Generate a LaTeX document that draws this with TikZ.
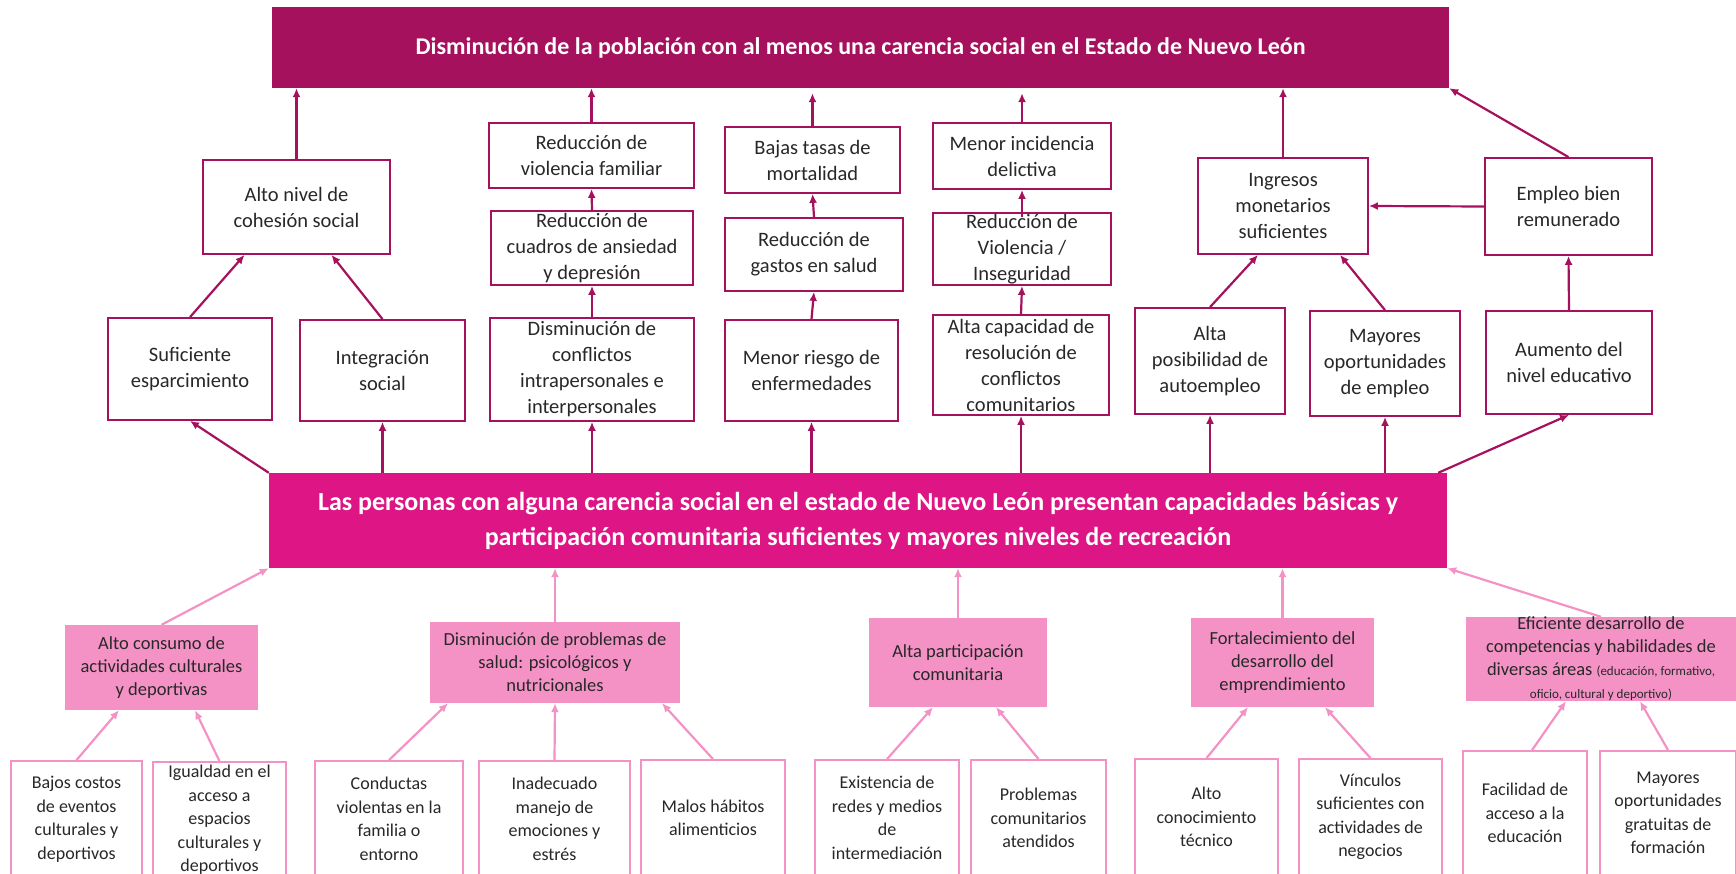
\documentclass[tikz,border=0pt]{standalone}
\usepackage{fontspec}
\setmainfont{Carlito}
\usetikzlibrary{arrows.meta}

\definecolor{goalc}{RGB}{166,17,94}
\definecolor{purposec}{RGB}{222,21,132}
\definecolor{medioc}{RGB}{244,146,198}
\definecolor{textc}{RGB}{40,40,40}

\tikzset{
  goal/.style={fill=goalc, text=white, font=\bfseries\fontsize{24}{30}\selectfont, inner sep=0pt},
  purpose/.style={fill=purposec, text=white, font=\bfseries\fontsize{26}{35}\selectfont, align=center, inner sep=0pt},
  effect/.style={draw=goalc, line width=1.8pt, fill=white, text=textc, font=\fontsize{20.5}{26}\selectfont, align=center, inner xsep=2pt, inner ysep=0pt},
  medio/.style={fill=medioc, text=textc, font=\fontsize{18.5}{23}\selectfont, align=center, inner sep=0pt},
  cause/.style={draw=medioc, line width=1.8pt, fill=white, text=textc, font=\fontsize{18}{23.5}\selectfont, align=center, inner sep=0pt, minimum height=116pt},
  effarrow/.style={draw=goalc, line width=2.2pt, -{Latex[length=9pt,width=8pt]}},
  medarrow/.style={draw=medioc, line width=2.2pt, -{Latex[length=9pt,width=8pt]}}
}

\begin{document}
\begin{tikzpicture}[x=1pt,y=-1pt]

\clip (0,0) rectangle (1736,874);
\fill[white] (0,0) rectangle (1736,874);

\node [goal, minimum width=1177pt, minimum height=81pt] (goal) at (860.5,47.5) {Disminución de la población con al menos una carencia social en el Estado de Nuevo León};

\node [effect, minimum width=187pt, minimum height=94pt] (cohes) at (296.5,207) {Alto nivel de\\cohesión social};
\node [effect, minimum width=164pt, minimum height=102pt] (esparc) at (190,369) {Suficiente\\esparcimiento};
\node [effect, minimum width=165pt, minimum height=101pt] (integ) at (382.5,370.5) {Integración\\social};

\node [effect, minimum width=205pt, minimum height=65pt] (violfam) at (591.5,155.5) {Reducción de\\violencia familiar};
\node [effect, minimum width=202pt, minimum height=74pt] (ansied) at (592,248) {Reducción de\\cuadros de ansiedad\\y depresión};
\node [effect, minimum width=204pt, minimum height=103pt] (conflint) at (592,369.5) {Disminución de\\conflictos\\intrapersonales e\\interpersonales};

\node [effect, minimum width=175pt, minimum height=66pt] (mortal) at (812.5,160) {Bajas tasas de\\mortalidad};
\node [effect, minimum width=178pt, minimum height=73pt] (gastos) at (814,254.5) {Reducción de\\gastos en salud};
\node [effect, minimum width=173pt, minimum height=101pt] (riesgo) at (811.5,370.5) {Menor riesgo de\\enfermedades};

\node [effect, minimum width=178pt, minimum height=66pt] (delict) at (1022,156) {Menor incidencia\\delictiva};
\node [effect, minimum width=178pt, minimum height=72pt] (insegur) at (1022,249) {Reducción de\\Violencia /\\Inseguridad};
\node [effect, minimum width=176pt, minimum height=100pt] (resol) at (1021,365) {Alta capacidad de\\resolución de\\conflictos\\comunitarios};

\node [effect, minimum width=170pt, minimum height=96pt] (ingres) at (1283,206) {Ingresos\\monetarios\\suficientes};
\node [effect, minimum width=167pt, minimum height=97pt] (empleo) at (1568.5,206.5) {Empleo bien\\remunerado};
\node [effect, minimum width=150pt, minimum height=106pt] (autoemp) at (1210,361) {Alta\\posibilidad de\\autoempleo};
\node [effect, minimum width=150pt, minimum height=105pt] (oportun) at (1385,363.5) {Mayores\\oportunidades\\de empleo};
\node [effect, minimum width=166pt, minimum height=103pt] (educ) at (1569,362.5) {Aumento del\\nivel educativo};

\node [purpose, minimum width=1178pt, minimum height=95pt] (purpose) at (858,520.5) {Las personas con alguna carencia social en el estado de Nuevo León presentan capacidades básicas y\\participación comunitaria suficientes y mayores niveles de recreación};

\node [medio, minimum width=193pt, minimum height=85pt] (cultur) at (161.5,667.5) {Alto consumo de\\actividades culturales\\y deportivas};
\node [medio, minimum width=250pt, minimum height=81pt] (salud) at (555,662.5) {Disminución de problemas de\\salud: psicológicos y\\nutricionales};
\node [medio, minimum width=178pt, minimum height=89pt] (partic) at (958,662.5) {Alta participación\\comunitaria};
\node [medio, minimum width=183pt, minimum height=89pt] (empren) at (1282.5,662.5) {Fortalecimiento del\\desarrollo del\\emprendimiento};
\node [medio, minimum width=270pt, minimum height=84pt] (compet) at (1601,659) {Eficiente desarrollo de\\competencias y habilidades de\\diversas áreas {\fontsize{13}{22}\selectfont(educación, formativo,}\\{\fontsize{13}{22}\selectfont oficio, cultural y deportivo)}};

\node [cause, minimum width=131pt] (costos) at (76.5,819) {Bajos costos\\de eventos\\culturales y\\deportivos};
\node [cause, minimum width=133pt] (igual) at (219.5,820) {Igualdad en el\\acceso a\\espacios\\culturales y\\deportivos};
\node [cause, minimum width=148pt] (conduct) at (389,819) {Conductas\\violentas en la\\familia o\\entorno};
\node [cause, minimum width=151pt] (emoc) at (554.5,819) {Inadecuado\\manejo de\\emociones y\\estrés};
\node [cause, minimum width=144pt] (habit) at (713,818) {Malos hábitos\\alimenticios};
\node [cause, minimum width=144pt] (redes) at (887,818) {Existencia de\\redes y medios\\de\\intermediación};
\node [cause, minimum width=135pt] (comun) at (1038.5,818) {Problemas\\comunitarios\\atendidos};
\node [cause, minimum width=143pt] (tecn) at (1206.5,817) {Alto\\conocimiento\\técnico};
\node [cause, minimum width=143pt] (vincul) at (1370.5,817) {Vínculos\\suficientes con\\actividades de\\negocios};
\node [cause, minimum width=124pt, minimum height=124pt] (facil) at (1525,813) {Facilidad de\\acceso a la\\educación};
\node [cause, minimum width=136pt, minimum height=124pt] (gratu) at (1668,813) {Mayores\\oportunidades\\gratuitas de\\formación};

\draw [effarrow] (cohes.north) -- (cohes.north |- goal.south);
\draw [effarrow] (violfam.north) -- (violfam.north |- goal.south);
\draw [effarrow] (mortal.north) -- ([yshift=-5pt]mortal.north |- goal.south);
\draw [effarrow] (delict.north) -- ([yshift=-5pt]delict.north |- goal.south);
\draw [effarrow] (ingres.north) -- (ingres.north |- goal.south);
\draw [effarrow] (empleo.north) -- (goal.south east);
\draw [effarrow] (empleo.west) -- (ingres.east);
\draw [effarrow] (educ.north) -- (empleo.south);
\draw [effarrow] (autoemp.north) -- ([xshift=-25pt]ingres.south);
\draw [effarrow] (oportun.north) -- ([xshift=57pt]ingres.south);
\draw [effarrow] (esparc.north) -- ([xshift=-52pt]cohes.south);
\draw [effarrow] (integ.north) -- ([xshift=35pt]cohes.south);
\draw [effarrow] (ansied.north) -- (violfam.south);
\draw [effarrow] (conflint.north) -- (ansied.south);
\draw [effarrow] (gastos.north) -- (mortal.south);
\draw [effarrow] (riesgo.north) -- (gastos.south);
\draw [effarrow] ([yshift=-5pt]insegur.north) -- (delict.south);
\draw [effarrow] (resol.north) -- (insegur.south);

\draw [effarrow] (purpose.north west) -- (esparc.south);
\draw [effarrow] (purpose.north -| integ) -- (integ.south);
\draw [effarrow] (purpose.north -| conflint) -- (conflint.south);
\draw [effarrow] (purpose.north -| riesgo) -- (riesgo.south);
\draw [effarrow] (purpose.north -| resol) -- (resol.south);
\draw [effarrow] (purpose.north -| autoemp) -- (autoemp.south);
\draw [effarrow] (purpose.north -| oportun) -- (oportun.south);
\draw [effarrow] ([xshift=-9pt]purpose.north east) -- (educ.south);

\draw [medarrow] (cultur.north) -- (purpose.south west);
\draw [medarrow] (salud.north) -- (salud.north |- purpose.south);
\draw [medarrow] (partic.north) -- (partic.north |- purpose.south);
\draw [medarrow] (empren.north) -- (empren.north |- purpose.south);
\draw [medarrow] (compet.north) -- (purpose.south east);

\draw [medarrow] (costos.north) -- ([xshift=-42.5pt]cultur.south);
\draw [medarrow] (igual.north) -- ([xshift=33.5pt]cultur.south);
\draw [medarrow] (conduct.north) -- ([xshift=-107pt]salud.south);
\draw [medarrow] (emoc.north) -- (salud.south);
\draw [medarrow] (habit.north) -- ([xshift=107pt]salud.south);
\draw [medarrow] (redes.north) -- ([xshift=-25pt]partic.south);
\draw [medarrow] (comun.north) -- ([xshift=38pt]partic.south);
\draw [medarrow] (tecn.north) -- ([xshift=-34.5pt]empren.south);
\draw [medarrow] (vincul.north) -- ([xshift=42.5pt]empren.south);
\draw [medarrow] ([xshift=7pt]facil.north) -- ([xshift=-35pt]compet.south);
\draw [medarrow] (gratu.north) -- ([xshift=39pt]compet.south);

\end{tikzpicture}
\end{document}
